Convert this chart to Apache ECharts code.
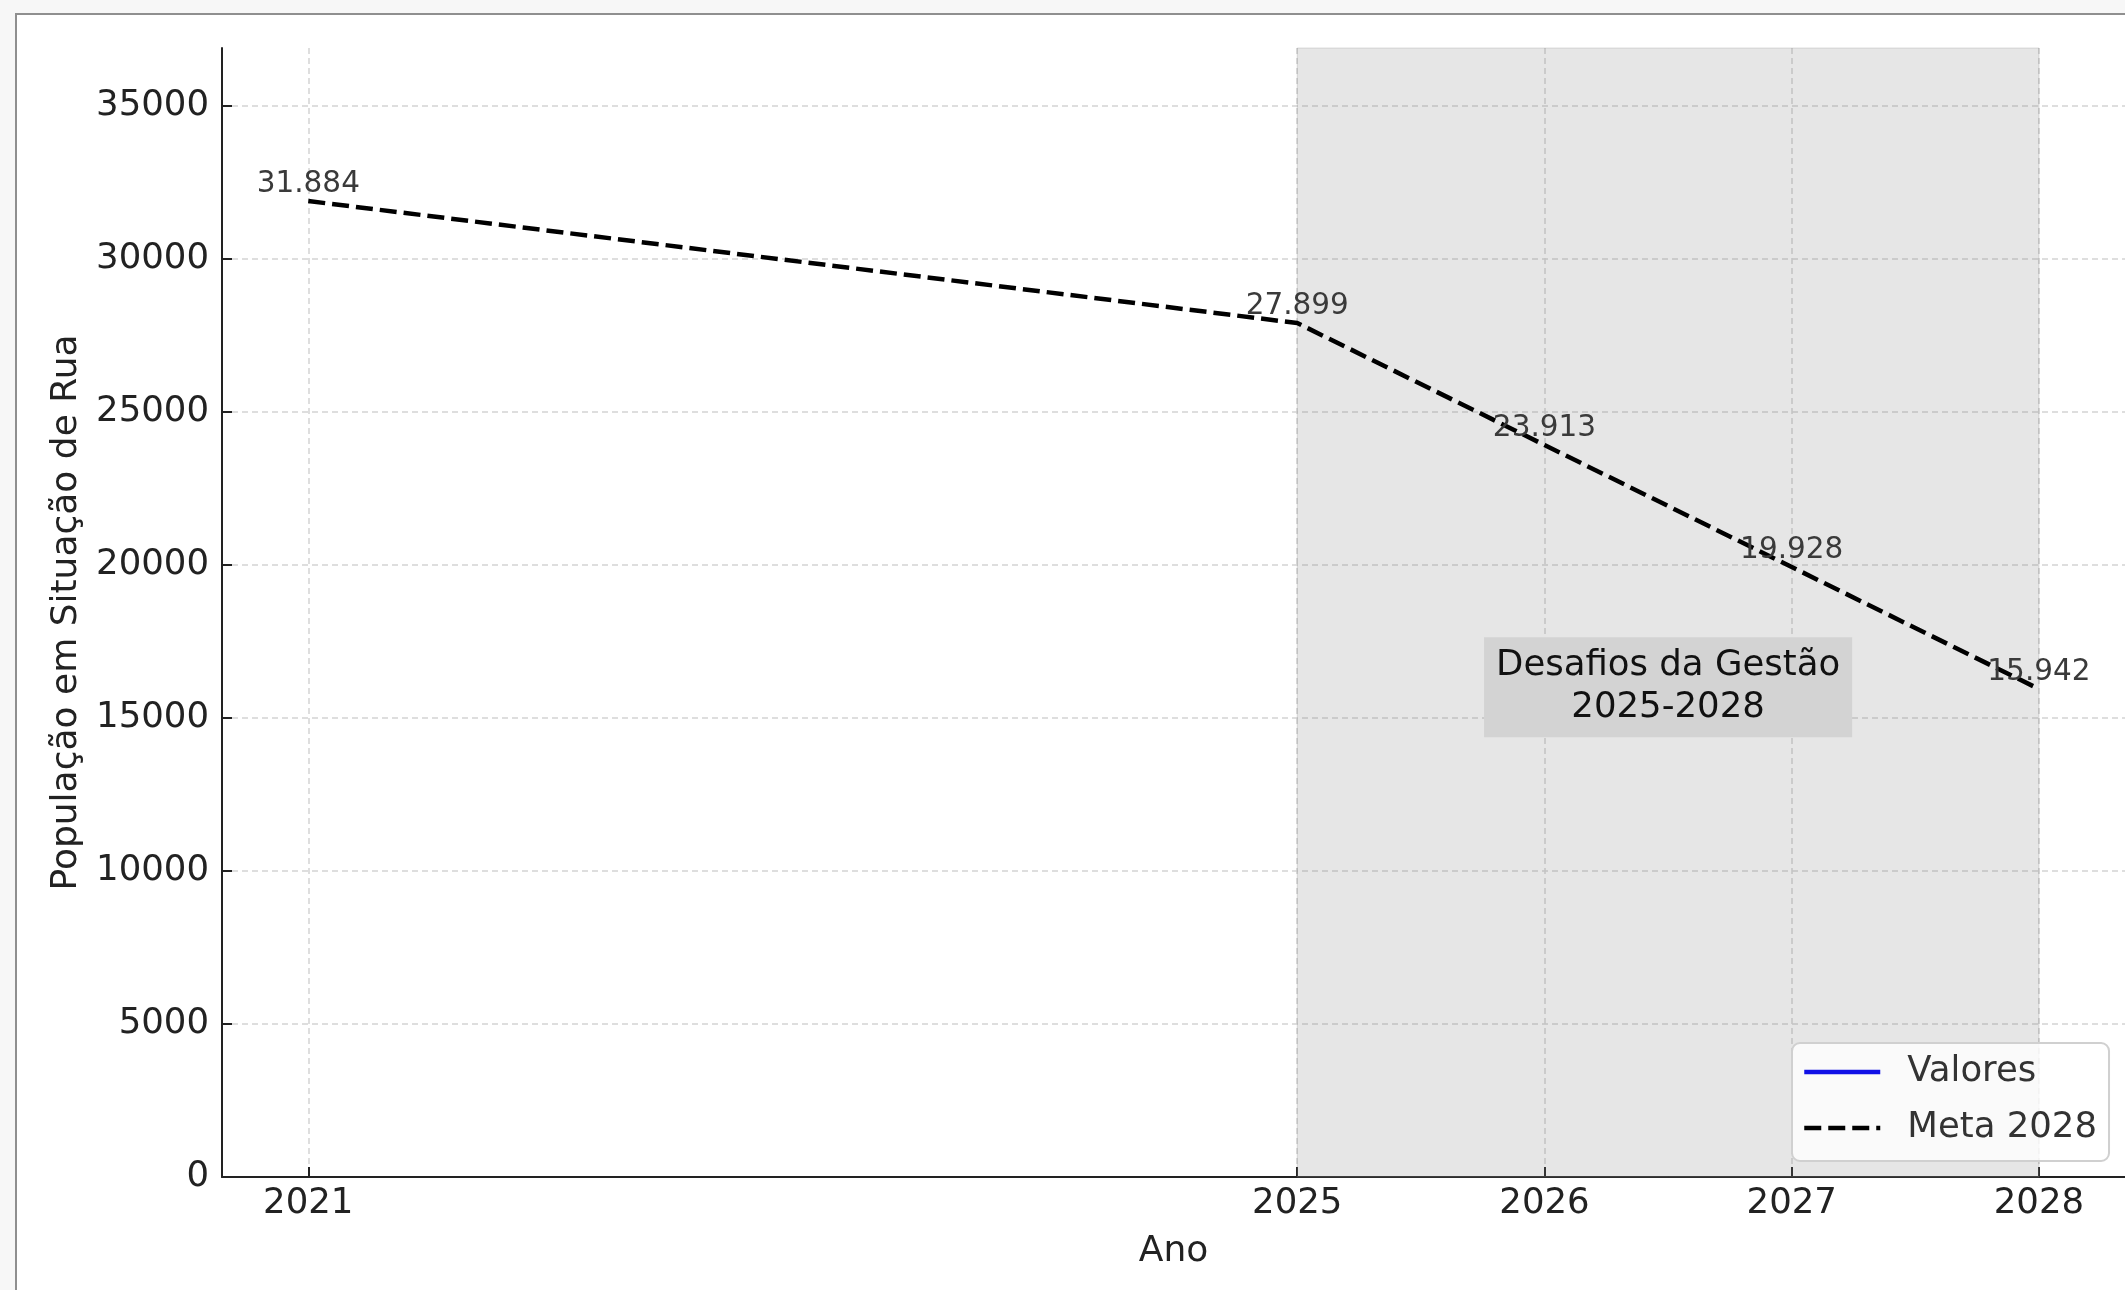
<!DOCTYPE html>
<html>
<head>
<meta charset="utf-8">
<script src="https://cdn.jsdelivr.net/npm/echarts@6/dist/echarts.min.js"></script>
<style>
html,body{margin:0;padding:0;background:#f7f7f7;}
#c{width:2125px;height:1290px;}
</style>
</head>
<body>
<div id="c"></div>
<script>
// ---- data ----
const years = [2021, 2025, 2026, 2027, 2028];
const meta2028 = [31884, 27899, 23913, 19928, 15942];
const valores = [];
const xTicks = [2021, 2025, 2026, 2027, 2028];
const yTicks = [0, 5000, 10000, 15000, 20000, 25000, 30000, 35000];
const spanRange = [2025, 2028];
const noteText = 'Desafios da Gestão\n2025-2028';
const notePos = [2026.5, 16000];
const xRange = [2020.651, 2028.348];
const yRange = [0, 36884];

const FONT = 'DejaVu Sans';
function fmt(n) { return String(n).replace(/\B(?=(\d{3})+(?!\d))/g, '.'); }

const chart = echarts.init(document.getElementById('c'), null, {renderer: 'canvas'});
chart.setOption({
  animation: false,
  backgroundColor: '#f7f7f7',
  graphic: [{
    type: 'rect', z: -100, silent: true,
    shape: {x: 16, y: 14, width: 2400, height: 1600},
    style: {fill: '#ffffff', stroke: '#8f8f8f', lineWidth: 2}
  }],
  grid: {left: 222, top: 48, width: 1905, height: 1129, containLabel: false},
  xAxis: {
    type: 'value', min: xRange[0], max: xRange[1],
    name: 'Ano', nameLocation: 'middle', nameGap: 57,
    nameTextStyle: {fontFamily: FONT, fontSize: 36, color: '#222'},
    axisLine: {show: true, onZero: false, lineStyle: {color: '#222', width: 2}},
    axisTick: {show: true, inside: true, length: 10, customValues: xTicks, lineStyle: {color: '#222', width: 2}},
    axisLabel: {customValues: xTicks, margin: 9, fontFamily: FONT, fontSize: 35.5, color: '#222',
      formatter: v => String(v)},
    splitLine: {show: true, lineStyle: {color: '#d4d4d4', width: 1.5, type: [6, 4]}}
  },
  yAxis: {
    type: 'value', min: yRange[0], max: yRange[1], interval: 5000,
    name: 'População em Situação de Rua', nameLocation: 'middle', nameGap: 137,
    nameTextStyle: {fontFamily: FONT, fontSize: 36, color: '#222'},
    axisLine: {show: true, lineStyle: {color: '#222', width: 2}},
    axisTick: {show: true, inside: true, length: 10, customValues: yTicks, lineStyle: {color: '#222', width: 2}},
    axisLabel: {customValues: yTicks, margin: 13, fontFamily: FONT, fontSize: 35.5, color: '#222',
      formatter: v => String(v)},
    splitLine: {show: true, lineStyle: {color: '#d4d4d4', width: 1.5, type: [6, 4]}}
  },
  legend: {
    orient: 'vertical', left: 1792, top: 1043,
    data: ['Valores', 'Meta 2028'],
    itemWidth: 76, itemHeight: 34, itemGap: 20,
    padding: [11, 12, 15, 10],
    backgroundColor: 'rgba(255,255,255,0.8)',
    borderColor: '#d0d0d0', borderWidth: 2, borderRadius: 8,
    lineStyle: {width: 4.5},
    textStyle: {fontFamily: FONT, fontSize: 35.5, color: '#333', padding: [0, 0, 0, 22]}
  },
  series: [
    {
      name: 'Valores', type: 'line', data: valores,
      symbol: 'circle', symbolSize: 1, color: '#1010e6',
      itemStyle: {color: 'rgba(0,0,0,0)', borderWidth: 0},
      lineStyle: {color: '#1010e6', width: 4.5}
    },
    {
      name: 'Meta 2028', type: 'line',
      data: years.map((y, i) => [y, meta2028[i]]),
      symbol: 'circle', symbolSize: 1, color: '#000',
      itemStyle: {color: 'rgba(0,0,0,0)', borderWidth: 0},
      lineStyle: {color: '#000', width: 4.5, type: [17, 7]},
      label: {show: true, position: 'top', distance: 1, fontFamily: FONT, fontSize: 29.5, color: '#3a3a3a',
        formatter: p => fmt(p.value[1])},
      markArea: {
        silent: true,
        itemStyle: {color: 'rgba(128,128,128,0.2)', borderColor: 'rgba(128,128,128,0.25)', borderWidth: 1},
        data: [[{xAxis: spanRange[0]}, {xAxis: spanRange[1]}]]
      },
      z: 3
    },
    {
      name: 'nota', type: 'scatter', data: [notePos], symbolSize: 0, silent: true, z: 5,
      itemStyle: {opacity: 1},
      label: {show: true, position: 'inside', formatter: noteText,
        fontFamily: FONT, fontSize: 35.5, lineHeight: 42, color: '#111',
        backgroundColor: '#d3d3d3', padding: [6, 12, 10, 12]}
    }
  ]
});
</script>
</body>
</html>
